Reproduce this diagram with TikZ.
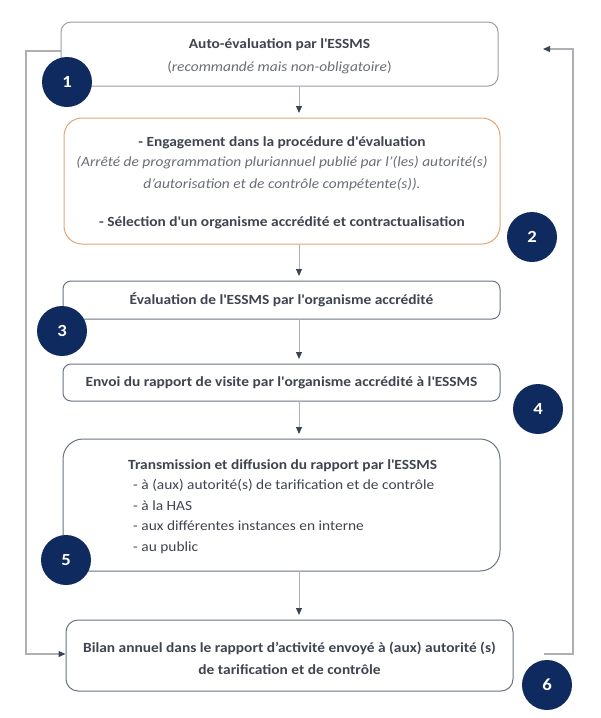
\documentclass[tikz,border=0pt]{standalone}
\usepackage{fontspec}
\setmainfont[FakeStretch=1.1]{Carlito}
\usetikzlibrary{arrows.meta}
\definecolor{navy}{HTML}{0E2A5E}
\definecolor{txt}{HTML}{3F4450}
\definecolor{itx}{HTML}{6A6E76}
\definecolor{bord}{HTML}{6B7484}
\definecolor{lbord}{HTML}{9AA0AA}
\definecolor{orng}{HTML}{E3A577}
\definecolor{loop}{HTML}{AEB0B4}
\definecolor{tip}{HTML}{3A4558}
\newcommand{\sq}{\textquotesingle}
\tikzset{
  box/.style={draw=bord, line width=1pt, rounded corners=#1, inner sep=0pt, text=txt, font=\fontsize{14}{20.5}\selectfont, align=center},
  box/.default=9pt,
  txtonly/.style={inner sep=0pt, text=txt, font=\fontsize{14}{20.5}\selectfont, align=center},
  num/.style={circle, fill=navy, minimum size=50pt, inner sep=0pt, text=white, font=\fontsize{17}{17}\selectfont\bfseries},
  flow/.style={draw=loop, line width=1pt, -{Triangle[length=7pt,width=6pt,fill=tip,color=tip]}, shorten >=5pt},
  loopline/.style={draw=loop, line width=1.2pt, -{Triangle[length=7pt,width=6pt,fill=tip,color=tip]}},
}
\begin{document}
\begin{tikzpicture}[x=1pt,y=-1pt]
\useasboundingbox[fill=white] (0,0) rectangle (601,718);
% boxes
\node[box=10pt, draw=lbord, minimum width=437pt, minimum height=64pt] (b1) at (279.5,54) {};
\node[txtonly] (t1) at (279.5,56)
  {\textbf{Auto-évaluation par l\sq ESSMS}\\[2.5pt]{\color{itx}(\textit{recommandé mais non-obligatoire})}};
\node[box=18pt, draw=orng, minimum width=436pt, minimum height=126pt] (b2) at (282,181) {};
\node[txtonly] (t2) at (282,183)
  {\textbf{- Engagement dans la procédure d\sq évaluation}\\[0pt]
   {\color{itx}\itshape (Arrêté de programmation pluriannuel publié par l’(les) autorité(s)}\\[1pt]
   {\color{itx}\itshape d’autorisation et de contrôle compétente(s)).}\\[18pt]
   \textbf{- Sélection d\sq un organisme accrédité et contractualisation}};
\node[box=8pt, minimum width=437pt, minimum height=38pt] (b3) at (281.5,300)
  {\textbf{Évaluation de l\sq ESSMS par l\sq organisme accrédité}};
\node[box=8pt, minimum width=437pt, minimum height=37pt] (b4) at (281.5,382.5)
  {\textbf{Envoi du rapport de visite par l\sq organisme accrédité à l\sq ESSMS}};
\node[box=20pt, minimum width=437pt, minimum height=132pt] (b5) at (281.5,505) {};
\node[anchor=north west, inner sep=0pt, text=txt, align=left, font=\fontsize{14}{20.5}\selectfont] (t5) at (128,459)
  {\textbf{Transmission et diffusion du rapport par l\sq ESSMS}\\
   \hspace{5pt}- à (aux) autorité(s) de tarification et de contrôle\\
   \hspace{5pt}- à la HAS\\
   \hspace{5pt}- aux différentes instances en interne\\
   \hspace{5pt}- au public};
\node[box=12pt, minimum width=447pt, minimum height=71pt] (b6) at (289.5,655.5) {};
\node[txtonly] (t6) at (289.5,658)
  {\textbf{Bilan annuel dans le rapport d’activité envoyé à (aux) autorité (s)}\\[1.5pt]
   \textbf{de tarification et de contrôle}};
% vertical connectors
\draw[flow] (299,86) -- (299,118);
\draw[flow] (299,244) -- (299,281);
\draw[flow] (299,319) -- (299,364);
\draw[flow] (299,401) -- (299,439);
\draw[flow] (299,571) -- (299,620);
% loops
\coordinate (lstart) at (61,51);
\coordinate (rstart) at (544,654);
\coordinate (rend) at (543,49);
\draw[loopline] (lstart) -- (26,51) -- (26,654) -- (b6.west |- 0,654);
\draw[loopline] (rstart) -- (573,654) -- (573,49) -- (rend);
% numbers
\node[num] (n1) at (67,82) {1};
\node[num] (n2) at (532,237) {2};
\node[num] (n3) at (62,331) {3};
\node[num] (n4) at (538,409) {4};
\node[num] (n5) at (66,560) {5};
\node[num] (n6) at (547,685) {6};
\end{tikzpicture}
\end{document}
